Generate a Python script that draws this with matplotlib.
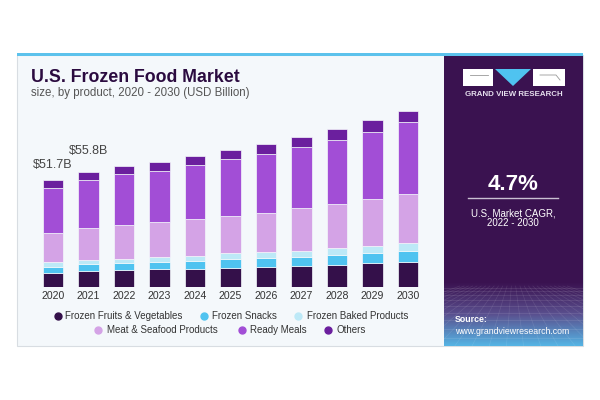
import numpy as np
import matplotlib
matplotlib.use('Agg')
import matplotlib.pyplot as plt
from matplotlib.patches import Rectangle, Polygon

plt.rcParams['font.family'] = ['Liberation Sans', 'DejaVu Sans']

# data (USD billion)
years = ['2020', '2021', '2022', '2023', '2024', '2025', '2026', '2027', '2028', '2029', '2030']
fruits_veg = [7.1, 7.9, 8.2, 8.7, 9.0, 9.4, 9.8, 10.2, 10.8, 11.8, 12.4]
snacks = [2.9, 3.2, 3.4, 3.5, 3.7, 4.4, 4.5, 4.7, 4.8, 4.7, 5.3]
baked = [2.1, 2.1, 2.3, 2.3, 2.6, 2.7, 2.7, 2.7, 3.2, 3.4, 3.9]
meat_seafood = [14.4, 15.3, 16.0, 16.9, 17.7, 17.9, 19.0, 20.8, 21.3, 22.7, 23.4]
ready_meals = [21.5, 23.3, 24.8, 25.0, 26.1, 27.6, 28.7, 29.7, 31.1, 32.7, 34.8]
others = [3.7, 4.0, 4.0, 4.4, 4.5, 4.5, 4.7, 4.8, 5.2, 5.6, 5.5]

series_names = ['Frozen Fruits & Vegetables', 'Frozen Snacks', 'Frozen Baked Products',
                'Meat & Seafood Products', 'Ready Meals', 'Others']
series_vals = [fruits_veg, snacks, baked, meat_seafood, ready_meals, others]
colors = ['#34104a', '#4fc3f0', '#bde9f7', '#d4a3e6', '#a24ed6', '#6b1f9e']

value_labels = ['$51.7B', '$55.8B']

fig = plt.figure(figsize=(6, 4), dpi=100)
fig.patch.set_facecolor('white')

# background axes in pixel coordinates
bg = fig.add_axes([0, 0, 1, 1])
bg.axis('off')

# card
bg.add_patch(Rectangle((17, 55), 566, 291, facecolor='#f4f8fb', edgecolor='#d8dde2', lw=0.8))
bg.add_patch(Rectangle((17, 53), 566, 2.5, facecolor='#5cc2ec', edgecolor='none'))

# right panel with gradient at the bottom
bg.add_patch(Rectangle((444, 55.5), 139, 290.5, facecolor='#3a1250', edgecolor='none'))
grad = np.linspace(0, 1, 100).reshape(-1, 1)
cmap = matplotlib.colors.LinearSegmentedColormap.from_list('g', ['#3a1250', '#5a4f8e', '#55b4e4'])
bg.imshow(grad, cmap=cmap, extent=(444, 583, 346, 282), aspect='auto', zorder=1)
for k in range(9):
    yy = 288 + k * (k + 6) * 0.45
    bg.plot([444, 583], [yy, yy], color='white', alpha=0.13, lw=0.5, zorder=2)
for xx in np.linspace(300, 730, 26):
    bg.plot([513 + (xx - 513) * 0.25, xx], [286, 346], color='white', alpha=0.1, lw=0.5, zorder=2)
bg.set_xlim(0, 600)
bg.set_ylim(400, 0)

# logo
bg.add_patch(Rectangle((463, 69), 30, 17, facecolor='white', edgecolor='none', zorder=3))
bg.add_patch(Rectangle((533, 69), 32, 17, facecolor='white', edgecolor='none', zorder=3))
bg.add_patch(Polygon([(495, 69), (531, 69), (513, 86)], facecolor='#4fc3f0', edgecolor='none', zorder=3))
bg.plot([470, 488], [75, 75], color='#999999', lw=0.6, zorder=4)
bg.plot([540, 556, 560], [75, 75, 80], color='#999999', lw=0.6, zorder=4)
bg.text(514, 94.5, 'GRAND VIEW RESEARCH', color='#e6e0ee', fontsize=5.7, fontweight='bold',
        ha='center', va='center', zorder=4)

bg.text(513, 184, '4.7%', color='white', fontsize=16, fontweight='bold', ha='center', va='center', zorder=4)
bg.plot([468, 558], [198, 198], color='#c9c0d2', lw=1, zorder=4)
bg.text(513, 213, 'U.S. Market CAGR,', color='white', fontsize=7, ha='center', va='center', zorder=4)
bg.text(513, 223.5, '2022 - 2030', color='white', fontsize=7, ha='center', va='center', zorder=4)
bg.text(455, 319, 'Source:', color='white', fontsize=6.3, fontweight='bold', ha='left', va='center', zorder=4)
bg.text(455, 331, 'www.grandviewresearch.com', color='white', fontsize=6.3, ha='left', va='center', zorder=4)

# titles
bg.text(31, 77, 'U.S. Frozen Food Market', color='#2b0b40', fontsize=12.8, fontweight='bold',
        ha='left', va='center')
bg.text(31, 93, 'size, by product, 2020 - 2030 (USD Billion)', color='#555555', fontsize=8.3,
        ha='left', va='center')

# legend, two centred rows
leg_rows = [(316, [(57.7, 65), (204, 212.5), (298, 307)]),
            (330, [(97.7, 107), (242, 250), (328, 336.5)])]
i = 0
for yy, items in leg_rows:
    for mx, tx in items:
        bg.plot(mx, yy, 'o', color=colors[i], markersize=5, zorder=4)
        bg.text(tx, yy, series_names[i], color='#333333', fontsize=7, ha='left', va='center')
        i += 1

# bar chart
ax = fig.add_axes([30 / 600, (400 - 287.3) / 400, 402 / 600, 187.3 / 400])
ax.patch.set_alpha(0)
x = np.arange(len(years))
bottom = np.zeros(len(years))
for vals, c, name in zip(series_vals, colors, series_names):
    ax.bar(x, vals, 0.58, bottom=bottom, color=c, edgecolor='#f4f8fb', linewidth=0.5, label=name)
    bottom += np.array(vals)

offsets = [9, 15]
for idx, lab in enumerate(value_labels):
    ax.annotate(lab, (x[idx], bottom[idx]), xytext=(0, offsets[idx] * 0.72), textcoords='offset points',
                ha='center', va='bottom', fontsize=9, color='#444444')

ax.set_xlim(-23 / 35.5, 379 / 35.5)
ax.set_ylim(0, 187.3 / 2.067)
ax.set_xticks(x)
ax.set_xticklabels(years, fontsize=7.6, color='#333333')
ax.tick_params(axis='x', length=0, pad=3)
ax.set_yticks([])
for s in ax.spines.values():
    s.set_visible(False)

fig.savefig('out.png', dpi=100)
